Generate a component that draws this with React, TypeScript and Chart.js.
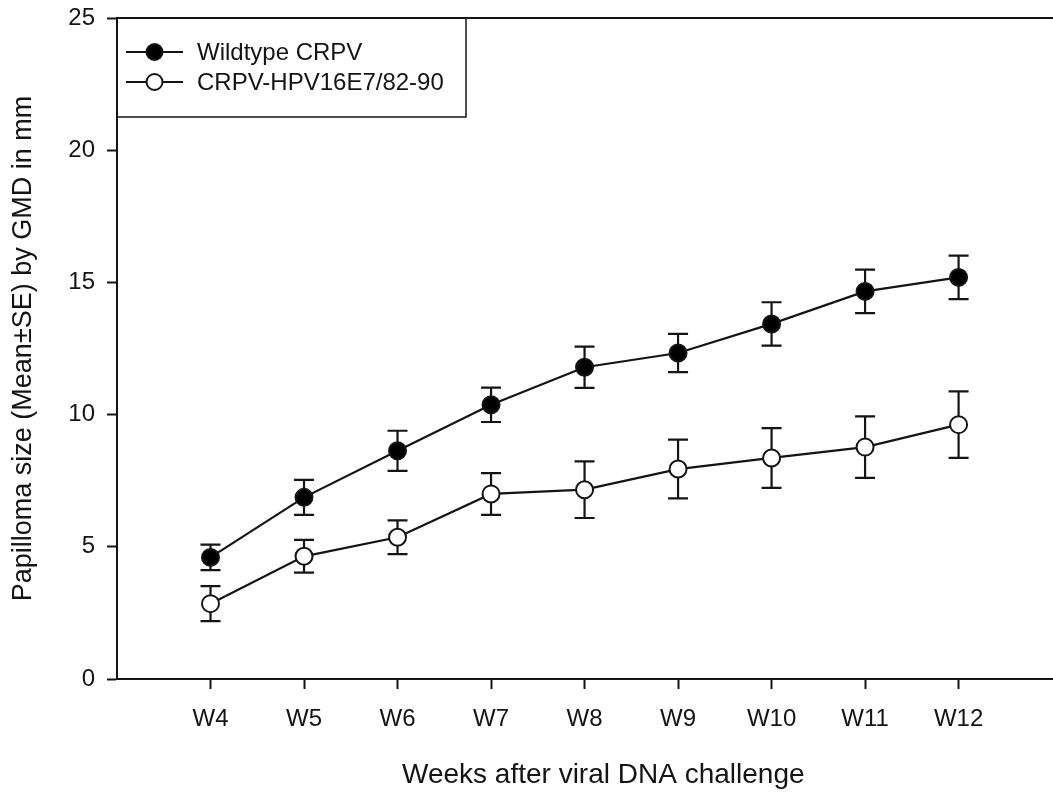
import React, { useEffect, useRef } from 'react';
import { Chart, registerables } from 'chart.js';

Chart.register(...registerables);

const weeks = ['W4', 'W5', 'W6', 'W7', 'W8', 'W9', 'W10', 'W11', 'W12'];
const weekNumbers = [4, 5, 6, 7, 8, 9, 10, 11, 12];
const wildtypeMean = [4.6, 6.87, 8.63, 10.37, 11.79, 12.33, 13.43, 14.66, 15.19];
const wildtypeSE = [0.48, 0.66, 0.76, 0.65, 0.78, 0.72, 0.82, 0.82, 0.82];
const mutantMean = [2.85, 4.64, 5.36, 7.0, 7.16, 7.94, 8.36, 8.77, 9.62];
const mutantSE = [0.66, 0.62, 0.64, 0.79, 1.07, 1.11, 1.13, 1.16, 1.26];
const yTicks = [0, 5, 10, 15, 20, 25];
const seriesNames = ['Wildtype CRPV', 'CRPV-HPV16E7/82-90'];
const xTitle = 'Weeks after viral DNA challenge';
const yTitle = 'Papilloma size (Mean\u00B1SE) by GMD in mm';

const FONT = "'Liberation Sans', Arial, Helvetica, sans-serif";
const INK = '#141414';

const errorBarPlugin = {
  id: 'errorBars',
  beforeDatasetsDraw(chart: any) {
    const { ctx } = chart;
    const xs = chart.scales.x;
    const ys = chart.scales.y;
    const sets = [
      { mean: wildtypeMean, se: wildtypeSE },
      { mean: mutantMean, se: mutantSE },
    ];
    ctx.save();
    ctx.strokeStyle = INK;
    ctx.lineWidth = 2.2;
    sets.forEach((s) => {
      s.mean.forEach((m, i) => {
        const x = xs.getPixelForValue(weekNumbers[i]);
        const yt = ys.getPixelForValue(m + s.se[i]);
        const yb = ys.getPixelForValue(m - s.se[i]);
        ctx.beginPath();
        ctx.moveTo(x, yt);
        ctx.lineTo(x, yb);
        ctx.moveTo(x - 10, yt);
        ctx.lineTo(x + 10, yt);
        ctx.moveTo(x - 10, yb);
        ctx.lineTo(x + 10, yb);
        ctx.stroke();
      });
    });
    ctx.restore();
  },
};

const frameLegendPlugin = {
  id: 'frameLegend',
  afterDraw(chart: any) {
    const { ctx, chartArea } = chart;
    const { left, top, right } = chartArea;
    ctx.save();
    ctx.strokeStyle = INK;
    ctx.lineWidth = 2;
    ctx.beginPath();
    ctx.moveTo(left, top);
    ctx.lineTo(right, top);
    ctx.stroke();
    ctx.lineWidth = 1.5;
    ctx.strokeRect(left, top, 349, 99);
    const rows = [
      { name: seriesNames[0], fill: '#000000', dy: 34 },
      { name: seriesNames[1], fill: '#ffffff', dy: 64 },
    ];
    rows.forEach((r) => {
      const y = top + r.dy;
      ctx.lineWidth = 2;
      ctx.strokeStyle = INK;
      ctx.beginPath();
      ctx.moveTo(left + 9, y);
      ctx.lineTo(left + 66, y);
      ctx.stroke();
      ctx.beginPath();
      ctx.arc(left + 37.5, y, 8, 0, Math.PI * 2);
      ctx.fillStyle = r.fill;
      ctx.fill();
      ctx.stroke();
      ctx.fillStyle = INK;
      ctx.font = `24px ${FONT}`;
      ctx.textBaseline = 'middle';
      ctx.textAlign = 'left';
      ctx.fillText(r.name, left + 80, y + 1);
    });
    ctx.restore();
  },
};

export default function App() {
  const canvasRef = useRef<HTMLCanvasElement | null>(null);

  useEffect(() => {
    if (!canvasRef.current) return;
    const chart = new Chart(canvasRef.current, {
      type: 'line',
      data: {
        datasets: [
          {
            label: seriesNames[0],
            data: weekNumbers.map((x, i) => ({ x, y: wildtypeMean[i] })),
            borderColor: INK,
            borderWidth: 2.2,
            pointRadius: 8.5,
            pointBorderWidth: 2,
            pointBorderColor: INK,
            pointBackgroundColor: '#000000',
            tension: 0,
          },
          {
            label: seriesNames[1],
            data: weekNumbers.map((x, i) => ({ x, y: mutantMean[i] })),
            borderColor: INK,
            borderWidth: 2.2,
            pointRadius: 8.5,
            pointBorderWidth: 2,
            pointBorderColor: INK,
            pointBackgroundColor: '#ffffff',
            tension: 0,
          },
        ],
      },
      options: {
        animation: false,
        responsive: false,
        devicePixelRatio: 1,
        layout: { padding: { left: 0, top: 18, right: 2, bottom: 0 } },
        plugins: {
          legend: { display: false },
          tooltip: { enabled: false },
        },
        scales: {
          x: {
            type: 'linear',
            min: 3,
            max: 13.4,
            afterBuildTicks: (s: any) => {
              s.ticks = weekNumbers.map((v) => ({ value: v }));
            },
            afterFit: (s: any) => {
              s.height = 113;
              s.paddingLeft = 0;
              s.paddingRight = 0;
            },
            ticks: {
              callback: (v: any) => weeks[weekNumbers.indexOf(Number(v))] ?? '',
              font: { family: FONT, size: 24 },
              color: INK,
              padding: 16,
              maxRotation: 0,
              autoSkip: false,
            },
            grid: {
              display: true,
              drawOnChartArea: false,
              drawTicks: true,
              tickLength: 10,
              tickWidth: 2,
              color: INK,
            },
            border: { display: true, color: INK, width: 2 },
            title: {
              display: true,
              text: xTitle,
              font: { family: FONT, size: 28 },
              color: INK,
              padding: { top: 2, bottom: 0 },
            },
          },
          y: {
            type: 'linear',
            min: 0,
            max: 25,
            afterBuildTicks: (s: any) => {
              s.ticks = yTicks.map((v) => ({ value: v }));
            },
            afterFit: (s: any) => {
              s.width = 117;
              s.paddingTop = 0;
              s.paddingBottom = 0;
            },
            ticks: {
              font: { family: FONT, size: 24 },
              color: INK,
              padding: 12,
            },
            grid: {
              display: true,
              drawOnChartArea: false,
              drawTicks: true,
              tickLength: 10,
              tickWidth: 2,
              color: INK,
            },
            border: { display: true, color: INK, width: 2 },
            title: {
              display: true,
              text: yTitle,
              font: { family: FONT, size: 27 },
              color: INK,
              padding: { top: 7, bottom: 0 },
            },
          },
        },
      },
      plugins: [errorBarPlugin, frameLegendPlugin],
    });
    return () => chart.destroy();
  }, []);

  return (
    <div
      style={{
        position: 'absolute',
        left: 0,
        top: 0,
        width: 1053,
        height: 792,
        overflow: 'hidden',
        background: '#ffffff',
      }}
    >
      <canvas ref={canvasRef} width={1100} height={792} style={{ display: 'block' }} />
    </div>
  );
}
